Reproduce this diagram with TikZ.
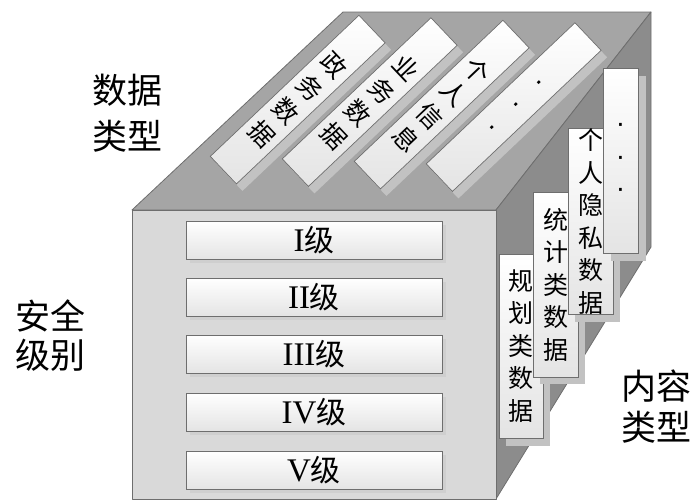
\documentclass[tikz,border=0pt]{standalone}
\usepackage{fontspec}
\newfontfamily\cjk{Noto Sans CJK SC}
\newfontfamily\rom{Liberation Serif}
\newfontfamily\dotf{Liberation Sans}
\definecolor{topc}{HTML}{A5A5A5}
\definecolor{rightc}{HTML}{8C8C8C}
\definecolor{frontc}{HTML}{D9D9D9}
\definecolor{edgec}{HTML}{6E6E6E}
\definecolor{shadc}{HTML}{C2C2C2}
\definecolor{barbot}{HTML}{E4E4E4}
\tikzset{
  face/.style={draw=edgec, line width=0.8pt, line join=round},
  stripbox/.style={draw=edgec, line width=0.7pt, top color=white, bottom color=barbot,
    rotate=-46.5, minimum width=38, minimum height=205, inner sep=0pt, align=center,
    font=\cjk\fontsize{25}{33}\selectfont},
  stripshadow/.style={fill=shadc, rotate=-46.5, minimum width=38, minimum height=205, inner sep=0pt},
  sidebox/.style={draw=edgec, line width=0.7pt, top color=white, bottom color=barbot,
    minimum height=185, inner sep=0pt, align=center, font=\cjk\fontsize{25}{32.5}\selectfont},
  sideshadow/.style={fill=shadc, minimum height=185, inner sep=0pt},
  levelbar/.style={draw=edgec, line width=0.7pt, top color=white, bottom color=barbot,
    minimum width=256, minimum height=38, inner sep=0pt, font=\cjk\fontsize{30}{30}\selectfont},
  levelshadow/.style={fill=black!22, opacity=0.5, minimum width=256, minimum height=38, inner sep=0pt},
  biglabel/.style={align=center, inner sep=0pt},
  dotstack/.style={font=\dotf\fontsize{28}{32.5}\selectfont}
}
\newcommand{\rn}[1]{{\rom\fontsize{33}{33}\selectfont #1}}
\begin{document}
\begin{tikzpicture}[x=1pt,y=-1pt]
\useasboundingbox (0,0) rectangle (694,501);
% cube faces
\coordinate (ftl) at (132,210);
\coordinate (ftr) at (496,210);
\coordinate (fbl) at (132,499);
\coordinate (fbr) at (496,499);
\coordinate (btl) at (343,12);
\coordinate (btr) at (651,12);
\coordinate (bbr) at (651,247);
\fill[topc] (ftl) -- (btl) -- (btr) -- (ftr) -- cycle;
\draw[face] (ftl) -- (btl) -- (btr) -- (ftr) -- cycle;
\fill[rightc] (ftr) -- (btr) -- (bbr) -- (fbr) -- cycle;
\draw[face] (ftr) -- (btr) -- (bbr) -- (fbr) -- cycle;
\fill[frontc] (ftl) rectangle (fbr);
\draw[face] (ftl) rectangle (fbr);
% top face strips
\node[stripshadow] at (303.7,106.6) {};
\node[stripshadow] at (375.7,109.1) {};
\node[stripshadow] at (447.7,111.6) {};
\node[stripshadow] at (519.7,114.1) {};
\node[stripbox] (s1) at (297.7,99.6) {政\\务\\数\\据};
\node[stripbox] (s2) at (369.7,102.1) {业\\务\\数\\据};
\node[stripbox] (s3) at (441.7,104.6) {个\\人\\信\\息};
\node[stripbox, dotstack] (s4) at (513.7,107.1) {·\\·\\·};
% right face boxes
\node[sideshadow, minimum width=44] at (528,353) {};
\node[sidebox, minimum width=44, minimum height=184] (r1) at (521,346) {规\\划\\类\\数\\据};
\node[sideshadow, minimum width=45] at (562.5,291.5) {};
\node[sidebox, minimum width=45] (r2) at (555.5,284.5) {统\\计\\类\\数\\据};
\node[sideshadow, minimum width=45] at (597.5,229) {};
\node[sidebox, minimum width=45] (r3) at (590.5,221.5) {个\\人\\隐\\私\\数\\据};
\node[sideshadow, minimum width=35] at (628,168) {};
\node[sidebox, minimum width=35, dotstack] (r4) at (620.5,160.5) {·\\·\\·};
% front face level bars
\foreach \yy in {240,297,354,412,470}{
  \node[levelshadow] at (318,\yy+4) {};
}
\node[levelbar] (l1) at (314,240) {\rn{I}级};
\node[levelbar] (l2) at (314,297) {\rn{II}级};
\node[levelbar] (l3) at (314,354) {\rn{III}级};
\node[levelbar] (l4) at (314,412) {\rn{IV}级};
\node[levelbar] (l5) at (314,470) {\rn{V}级};
% outside labels
\node[biglabel, font=\cjk\fontsize{35}{46}\selectfont] (dt) at (127.5,113) {数据\\类型};
\node[biglabel, font=\cjk\fontsize{35}{39}\selectfont] (sl) at (51,335.5) {安全\\级别};
\node[biglabel, font=\cjk\fontsize{35}{41}\selectfont] (ct) at (656,406.5) {内容\\类型};
\end{tikzpicture}
\end{document}
